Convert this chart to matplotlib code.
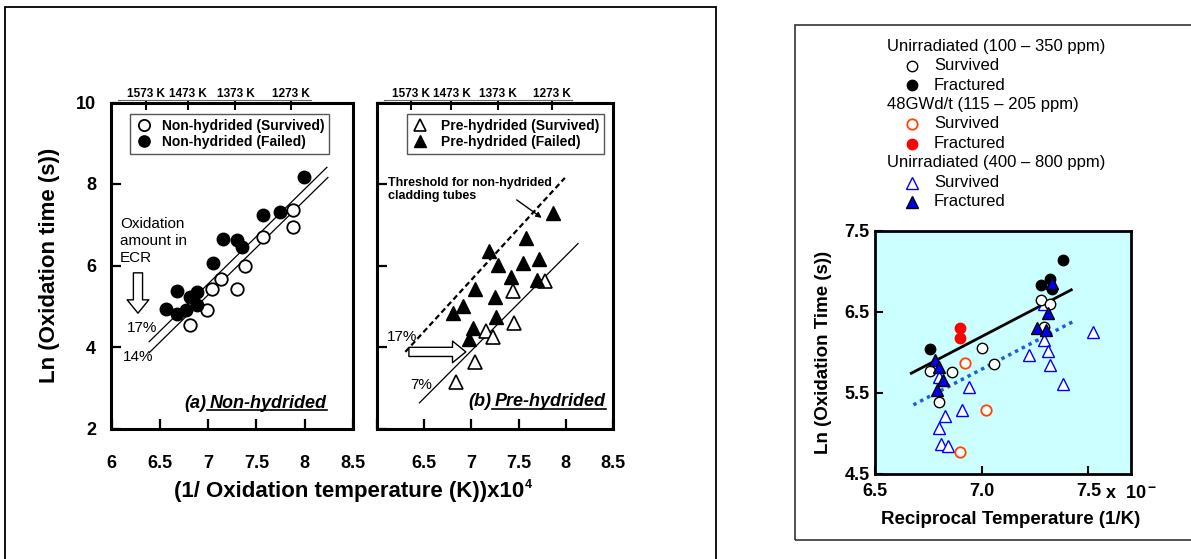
import numpy as np
import matplotlib

matplotlib.use("Agg")
import matplotlib.pyplot as plt
from matplotlib.lines import Line2D
from matplotlib.patches import Rectangle
from matplotlib.transforms import IdentityTransform

plt.rcParams["font.family"] = ["Liberation Sans", "DejaVu Sans"]
plt.rcParams["font.weight"] = "bold"
plt.rcParams["axes.labelweight"] = "bold"

# ---- panel (a): non-hydrided ----
a_surv_x = [7.88, 7.88, 7.57, 7.38, 7.13, 7.04, 7.30, 6.99, 6.81]
a_surv_y = [7.36, 6.95, 6.71, 5.99, 5.66, 5.42, 5.42, 4.91, 4.54]
a_fail_x = [7.99, 7.57, 7.74, 7.15, 7.30, 7.35, 7.05, 6.68, 6.88, 6.81, 6.56, 6.68, 6.77, 6.88]
a_fail_y = [8.18, 7.24, 7.32, 6.64, 6.62, 6.46, 6.05, 5.38, 5.36, 5.23, 4.94, 4.81, 4.91, 5.03]
a_line17_x = [6.39, 8.23]
a_line17_y = [4.13, 8.41]
a_line14_x = [6.39, 8.24]
a_line14_y = [3.86, 8.16]

# ---- panel (b): pre-hydrided ----
b_surv_x = [7.78, 7.44, 7.45, 7.15, 7.23, 7.04, 6.84]
b_surv_y = [5.63, 5.38, 4.60, 4.40, 4.24, 3.64, 3.15]
b_fail_x = [7.86, 7.58, 7.19, 7.72, 7.28, 7.55, 7.42, 7.69, 7.04, 7.25, 6.91, 6.80, 7.26, 7.02, 6.97]
b_fail_y = [7.28, 6.67, 6.36, 6.15, 6.01, 6.05, 5.71, 5.64, 5.42, 5.22, 5.01, 4.84, 4.73, 4.46, 4.19]
b_thresh_x = [6.30, 7.99]
b_thresh_y = [3.88, 8.15]
b_line7_x = [6.45, 8.13]
b_line7_y = [2.63, 6.54]

temps_k = [1573, 1473, 1373, 1273]
ab_xticks = [6, 6.5, 7, 7.5, 8, 8.5]
ab_yticks = [2, 4, 6, 8, 10]

# ---- panel (c): reciprocal temperature ----
c_unirr_surv_x = [7.28, 7.32, 7.29, 7.00, 7.06, 6.76, 6.86, 6.80]
c_unirr_surv_y = [6.64, 6.59, 6.31, 6.05, 5.85, 5.77, 5.75, 5.39]
c_unirr_frac_x = [7.38, 7.32, 7.28, 7.33, 6.76]
c_unirr_frac_y = [7.14, 6.90, 6.83, 6.78, 6.04]
c_irr_surv_x = [6.92, 7.02, 6.90]
c_irr_surv_y = [5.87, 5.29, 4.77]
c_irr_frac_x = [6.90, 6.90]
c_irr_frac_y = [6.30, 6.18]
c_hyd_surv_x = [7.29, 7.29, 7.31, 7.32, 7.38, 7.22, 7.52, 6.80, 6.94, 6.91, 6.83, 6.80, 6.81, 6.84]
c_hyd_surv_y = [6.60, 6.15, 6.02, 5.84, 5.61, 5.97, 6.25, 5.70, 5.57, 5.29, 5.21, 5.06, 4.87, 4.84]
c_hyd_frac_x = [7.33, 7.31, 7.26, 7.30, 6.78, 6.80, 6.82, 6.79]
c_hyd_frac_y = [6.86, 6.49, 6.30, 6.27, 5.90, 5.82, 5.66, 5.53]
c_fit_x = [6.67, 7.42]
c_fit_y = [5.74, 6.77]
c_fit_hyd_x = [6.68, 7.43]
c_fit_hyd_y = [5.35, 6.38]

c_groups = ["Unirradiated (100 \u2013 350 ppm)", "48GWd/t (115 \u2013 205 ppm)",
            "Unirradiated (400 \u2013 800 ppm)"]

W, H = 1191, 559
fig = plt.figure(figsize=(W / 100, H / 100), dpi=100)


def px_axes(x0, y0, x1, y1):
    return fig.add_axes([x0 / W, 1 - y1 / H, (x1 - x0) / W, (y1 - y0) / H])


def style_panel(ax, show_y):
    ax.set_xlim(6, 8.5)
    ax.set_ylim(2, 10)
    ax.set_xticks(ab_xticks, labels=[f"{t:g}" if (show_y or t > 6) else "" for t in ab_xticks])
    ax.set_yticks(ab_yticks, labels=[f"{t}" if show_y else "" for t in ab_yticks])
    for s in ax.spines.values():
        s.set_linewidth(2.2)
    ax.tick_params(axis="both", direction="in", length=7, width=1.6, labelsize=13)
    ax.tick_params(axis="x", pad=19)
    ax.tick_params(axis="y", pad=11)

    sec = ax.secondary_xaxis("top")
    sec.set_xticks(1e4 / np.array(temps_k), labels=[f"{t} K" for t in temps_k])
    sec.spines["top"].set_position(("outward", 2))
    sec.spines["top"].set_linewidth(0.8)
    sec.spines["top"].set_color("#666666")
    sec.spines["top"].set_bounds(6.07, 8.07)
    sec.tick_params(direction="in", length=7, width=1.5, pad=0, labelsize=8.5)


hollow = dict(arrowstyle="simple,head_length=0.8,head_width=1.3,tail_width=0.55",
              fc="white", ec="black", lw=1, mutation_scale=12, shrinkA=0, shrinkB=0)

# panel (a)
ax_a = px_axes(111.5, 102.5, 353, 428.5)
style_panel(ax_a, True)
ax_a.plot(a_line17_x, a_line17_y, color="black", lw=0.9)
ax_a.plot(a_line14_x, a_line14_y, color="black", lw=0.9)
ax_a.plot(a_surv_x, a_surv_y, "o", ms=9, mfc="white", mec="black", mew=1.3,
          label="Non-hydrided (Survived)")
ax_a.plot(a_fail_x, a_fail_y, "o", ms=9, mfc="black", mec="black",
          label="Non-hydrided (Failed)")
leg = ax_a.legend(loc="upper center", bbox_to_anchor=(0.49, 0.985), fontsize=10,
                  fancybox=False, edgecolor="#555555", framealpha=1, borderpad=0.35,
                  labelspacing=0.15, handlelength=1.2, handletextpad=0.7, markerscale=0.9)
leg.get_frame().set_linewidth(1)
ax_a.set_ylabel("Ln (Oxidation time (s))", fontsize=16)
ax_a.yaxis.set_label_coords(-0.215, 0.5)
ax_a.text(6.088, 7.2, "Oxidation\namount in\nECR", fontsize=11, fontweight="normal",
          va="top", ha="left", linespacing=1.3)
ax_a.annotate("", xy=(6.274, 4.83), xytext=(6.274, 5.82), arrowprops=hollow)
ax_a.text(6.16, 4.47, "17%", fontsize=11, fontweight="normal", va="center")
ax_a.text(6.12, 3.75, "14%", fontsize=11, fontweight="normal", va="center")

# panel (b)
ax_b = px_axes(377, 102.5, 613, 428.5)
style_panel(ax_b, False)
ax_b.plot(b_thresh_x, b_thresh_y, color="black", lw=1.6, ls=(0, (2.5, 1.5)))
ax_b.plot(b_line7_x, b_line7_y, color="black", lw=0.9)
ax_b.plot(b_surv_x, b_surv_y, "^", ms=10, mfc="white", mec="black", mew=1.2,
          label="Pre-hydrided (Survived)")
ax_b.plot(b_fail_x, b_fail_y, "^", ms=10, mfc="black", mec="black",
          label="Pre-hydrided (Failed)")
leg = ax_b.legend(loc="upper center", bbox_to_anchor=(0.545, 0.985), fontsize=10,
                  fancybox=False, edgecolor="#555555", framealpha=1, borderpad=0.35,
                  labelspacing=0.15, handlelength=1.2, handletextpad=0.9, markerscale=0.8)
leg.get_frame().set_linewidth(1)
ax_b.text(6.116, 8.17, "Threshold for non-hydrided\ncladding tubes", fontsize=9,
          va="top", ha="left", linespacing=1.05)
ax_b.annotate("", xy=(7.745, 7.17), xytext=(7.48, 7.61),
              arrowprops=dict(arrowstyle="-|>", color="black", lw=1,
                              mutation_scale=8, shrinkA=0, shrinkB=0))
ax_b.annotate("", xy=(6.941, 3.88), xytext=(6.338, 3.88), arrowprops=hollow)
ax_b.text(6.106, 4.25, "17%", fontsize=11, fontweight="normal", va="center")
ax_b.text(6.35, 3.07, "7%", fontsize=11, fontweight="normal", va="center")

ab_xlabel = fig.text(349 / W, 1 - 492 / H, "(1/ Oxidation temperature (K))x10",
                     fontsize=16, ha="center", va="center")

# panel (c)
ax_c = px_axes(875, 230.7, 1131, 473.7)
ax_c.set_facecolor("#ccffff")
ax_c.set_xlim(6.5, 7.7)
ax_c.set_ylim(4.5, 7.5)
ax_c.set_xticks([6.5, 7.0, 7.5], labels=["6.5", "7.0", "7.5"])
ax_c.set_yticks([4.5, 5.5, 6.5, 7.5], labels=["4.5", "5.5", "6.5", "7.5"])
for s in ax_c.spines.values():
    s.set_linewidth(2)
ax_c.tick_params(direction="in", length=6, width=1.5, labelsize=13)
ax_c.tick_params(axis="x", pad=7)
ax_c.tick_params(axis="y", pad=4)
ax_c.plot(c_fit_x, c_fit_y, color="black", lw=2)
ax_c.plot(c_fit_hyd_x, c_fit_hyd_y, color="#1f5fd6", lw=2.5, ls=(0, (1, 1.2)))
ax_c.plot(c_hyd_surv_x, c_hyd_surv_y, "^", ms=9, mfc="white", mec="#0000ff", mew=1)
ax_c.plot(c_irr_surv_x, c_irr_surv_y, "o", ms=7.5, mfc="white", mec="#ff4500", mew=1.3)
ax_c.plot(c_irr_frac_x, c_irr_frac_y, "o", ms=7.5, mfc="#ff0000", mec="#ff0000")
ax_c.plot(c_unirr_surv_x, c_unirr_surv_y, "o", ms=7.5, mfc="white", mec="black", mew=1)
ax_c.plot(c_unirr_frac_x, c_unirr_frac_y, "o", ms=7.5, mfc="black", mec="black")
ax_c.plot(c_hyd_frac_x, c_hyd_frac_y, "^", ms=9, mfc="#0000ee", mec="black", mew=1)
ax_c.set_ylabel("Ln (Oxidation Time (s))", fontsize=13.5)
ax_c.yaxis.set_label_coords(-0.168, 0.5)
c_unit = fig.text(1106 / W, 1 - 493 / H, "x  10", fontsize=13, ha="left", va="center")
fig.text(1011 / W, 1 - 520 / H, "Reciprocal Temperature (1/K)", fontsize=13.5,
         ha="center", va="center")

# legend of panel (c), laid out as in the source
c_styles = [
    [dict(marker="o", ms=7.5, mfc="white", mec="black", mew=1),
     dict(marker="o", ms=7.5, mfc="black", mec="black")],
    [dict(marker="o", ms=7.5, mfc="white", mec="#ff4500", mew=1.3),
     dict(marker="o", ms=7.5, mfc="#ff0000", mec="#ff0000")],
    [dict(marker="^", ms=9, mfc="white", mec="#0000ff", mew=1),
     dict(marker="^", ms=9, mfc="#0000ee", mec="black", mew=1)],
]
row_y = 46
for header, styles in zip(c_groups, c_styles):
    fig.text(887 / W, 1 - row_y / H, header, fontsize=12, fontweight="normal",
             ha="left", va="center")
    for lab, st in zip(["Survived", "Fractured"], styles):
        row_y += 19.5
        fig.add_artist(Line2D([912 / W], [1 - row_y / H], transform=fig.transFigure,
                              ls="none", **st))
        fig.text(934 / W, 1 - row_y / H, lab, fontsize=12, fontweight="normal",
                 ha="left", va="center")
    row_y += 19.5

# frames around the two figures
fig.add_artist(Rectangle((5 / W, -0.05), 711 / W, 1.05 - 7 / H, transform=fig.transFigure,
                         fill=False, ec="black", lw=1.3))
fig.add_artist(Rectangle((795 / W, 1 - 540 / H), 420 / W, 515 / H,
                         transform=fig.transFigure, fill=False, ec="#333333", lw=1.2))

# panel captions with underlined names, and superscripted exponents
fig.canvas.draw()
renderer = fig.canvas.get_renderer()
for ax, tag, name, fx, fy in [(ax_a, "(a)", "Non-hydrided", 0.300, 0.063),
                               (ax_b, "(b)", "Pre-hydrided", 0.386, 0.069)]:
    t1 = ax.text(fx, fy, tag, transform=ax.transAxes, fontsize=13, style="italic",
                 va="baseline", ha="left")
    bb1 = t1.get_window_extent(renderer)
    t2 = ax.text(bb1.x1 + 4, t1.get_transform().transform((fx, fy))[1], name,
                 transform=IdentityTransform(), fontsize=13, style="italic",
                 va="baseline", ha="left")
    bb2 = t2.get_window_extent(renderer)
    fig.add_artist(Line2D([bb1.x1 + 1, bb2.x1], [bb2.y0 + 1.5, bb2.y0 + 1.5],
                          transform=IdentityTransform(), color="black", lw=1.2))

for base, exp, size, lift in [(ab_xlabel, "4", 9, 2), (c_unit, "\u2212", 10, 4)]:
    bb = base.get_window_extent(renderer)
    fig.text(bb.x1 + 1, bb.y1 + lift, exp, transform=IdentityTransform(), fontsize=size,
             ha="left", va="top")

fig.savefig("out.png", dpi=100)
